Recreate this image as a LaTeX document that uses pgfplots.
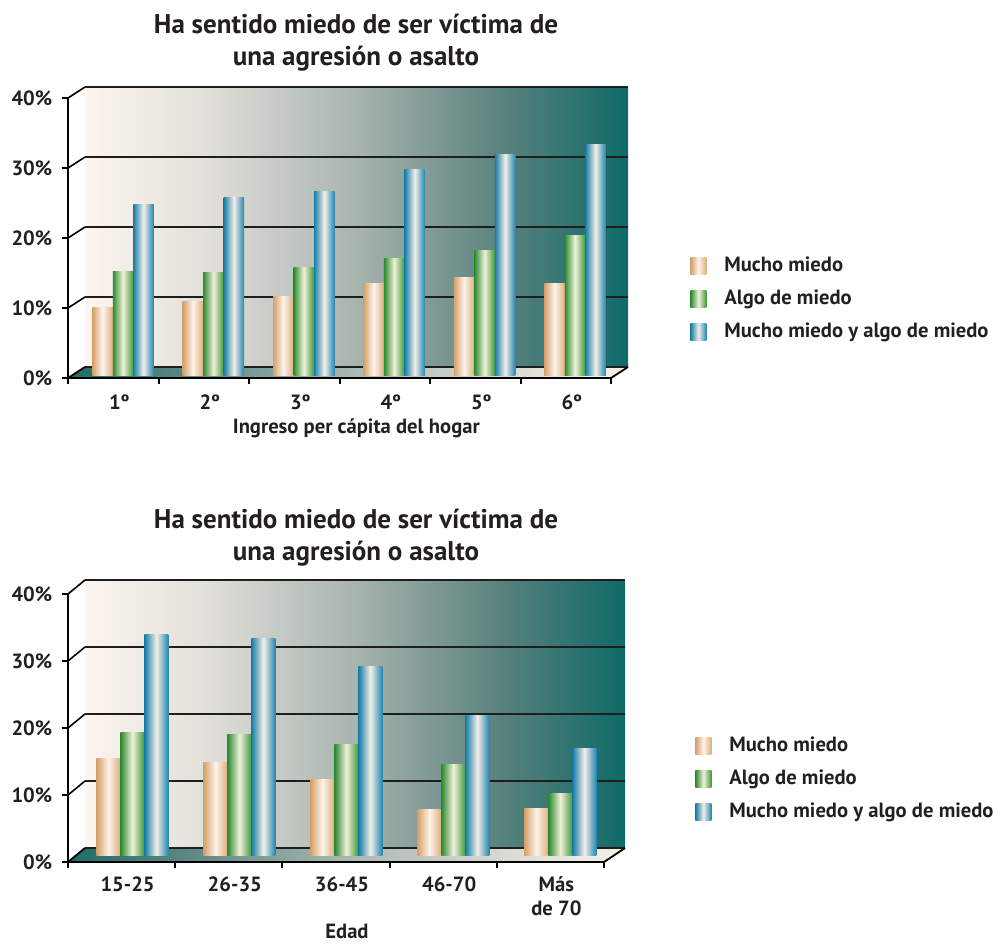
\documentclass[border=0pt]{standalone}
\usepackage{fontspec}
\setmainfont{PT Sans}
\usepackage{pgfplots}
\pgfplotsset{compat=1.18}

\definecolor{txt}{HTML}{231F20}
\definecolor{gridc}{HTML}{1E1E1E}
\definecolor{wallA}{HTML}{FDF5EF}
\definecolor{wallB}{HTML}{E2E0DA}
\definecolor{wallC}{HTML}{A8B4AE}
\definecolor{wallD}{HTML}{56807C}
\definecolor{wallE}{HTML}{0E6A68}
\definecolor{floorA}{HTML}{1F6C69}
\definecolor{floorB}{HTML}{5E8884}
\definecolor{floorC}{HTML}{A9B7B2}
\definecolor{floorD}{HTML}{DAD9D2}
\definecolor{floorE}{HTML}{F7F1E8}
\definecolor{orL}{HTML}{D5A06A}
\definecolor{orM}{HTML}{FDF4EA}
\definecolor{orR}{HTML}{DDAE7E}
\definecolor{grL}{HTML}{2B8A2F}
\definecolor{grM}{HTML}{F3F0DA}
\definecolor{grR}{HTML}{3F9A3A}
\definecolor{blL}{HTML}{167DA6}
\definecolor{blM}{HTML}{F3EFE8}
\definecolor{blR}{HTML}{2386AE}

\pgfdeclarehorizontalshading{wall}{100bp}{color(0bp)=(wallA); color(25bp)=(wallA); color(36bp)=(wallB); color(50bp)=(wallC); color(64bp)=(wallD); color(75bp)=(wallE); color(100bp)=(wallE)}
\pgfdeclarehorizontalshading{floor}{100bp}{color(0bp)=(floorA); color(25bp)=(floorA); color(36bp)=(floorB); color(50bp)=(floorC); color(64bp)=(floorD); color(75bp)=(floorE); color(100bp)=(floorE)}

% series
\pgfplotstableread{
x mucho algo ambos
0 9.7  14.8 24.4
1 10.5 14.7 25.3
2 11.2 15.3 26.2
3 13.1 16.6 29.3
4 14.0 17.8 31.5
5 13.1 20.0 32.9
}\ingreso
\pgfplotstableread{
x mucho algo ambos
0 14.5 18.3 33.0
1 13.9 18.1 32.3
2 11.4 16.6 28.1
3 6.9  13.6 20.8
4 7.1  9.2  16.0
}\edad

\tikzset{lbl/.style={font=\fontsize{10.3}{12}\selectfont\bfseries, text=txt}}

\pgfplotsset{
  front/.style={
    scale only axis, anchor=south west,
    ymin=0, ymax=40, xmin=-0.5,
    axis x line*=bottom, axis y line*=left,
    axis line style={line width=1pt, color=black, -},
    tick align=outside, major tick length=3.2pt,
    tick style={line width=1pt, color=black},
    ytick={0,10,20,30,40},
    yticklabels={0\%,10\%,20\%,30\%,40\%},
    yticklabel style={lbl, inner sep=0pt, xshift=-4.5pt},
    xticklabel style={lbl, inner sep=0pt, align=center},
    xlabel style={lbl},
  },
  bars/.style={
    scale only axis, anchor=south west, hide axis,
    ymin=0, ymax=40, xmin=-0.5,
    legend style={draw=none, fill=none, anchor=west, lbl,
      row sep=3.6pt, inner sep=0pt, column sep=7pt,
      cells={anchor=west}},
    legend image code/.code={\path[##1,draw=none] (0pt,-4.25pt) rectangle (8pt,4.25pt);},
  },
  mucho/.style={draw=none, left color=orL, right color=orR, middle color=orM},
  algo/.style={draw=none, left color=grL, right color=grR, middle color=grM},
  ambos/.style={draw=none, left color=blL, right color=blR, middle color=blM},
}

\begin{document}
\begin{tikzpicture}
\useasboundingbox (0,0) rectangle (503.5pt,-472pt);

% walls, floors and grid (pixel units of the reference)
\begin{scope}[x=0.5pt, y=-0.5pt]
  % chart 1
  \shade[shading=wall] (85,87) rectangle (628,367);
  \shade[shading=floor] (68,378) -- (611,378) -- (628,367) -- (85,367) -- cycle;
  \foreach \yb/\yf in {87/98,157/168,227/238,297/308} {
    \draw[gridc, line width=0.9pt] (85,\yb) -- (628,\yb);
    \draw[black, line width=0.8pt] (68,\yf) -- (85,\yb);
  }
  \draw[gridc, line width=0.9pt] (85,367) -- (628,367);
  \draw[black, line width=0.9pt] (68,378) -- (85,367) (611,378) -- (628,367);
  % chart 2
  \shade[shading=wall] (85,580) rectangle (625,848);
  \shade[shading=floor] (68,862) -- (604,862) -- (625,848) -- (85,848) -- cycle;
  \foreach \yb/\yf in {580/594,647/661,714/728,781/795} {
    \draw[gridc, line width=0.9pt] (85,\yb) -- (625,\yb);
    \draw[black, line width=0.8pt] (68,\yf) -- (85,\yb);
  }
  \draw[gridc, line width=0.9pt] (85,848) -- (625,848);
  \draw[black, line width=0.9pt] (68,862) -- (85,848) (604,862) -- (625,848);
  % titles
  \node[align=center, text=txt, font=\fontsize{13.5}{16}\selectfont\bfseries] at (356,43)
    {Ha sentido miedo de ser víctima de\\una agresión o asalto};
  \node[align=center, text=txt, font=\fontsize{13.5}{16}\selectfont\bfseries] at (356,538)
    {Ha sentido miedo de ser víctima de\\una agresión o asalto};
\end{scope}

% chart 1: front frame with ticks
\begin{axis}[front, at={(34pt,-189pt)}, width=271.5pt, height=140pt, xmax=5.5,
  xtick={-0.5,0.5,...,5.5}, xticklabels={},
  extra x ticks={0,...,5},
  extra x tick labels={1º,2º,3º,4º,5º,6º},
  extra x tick style={major tick length=0pt, xticklabel style={xshift=3pt, yshift=-8pt}},
  xlabel={Ingreso per cápita del hogar},
  xlabel style={at={(axis description cs:0.531,-0.18)}, anchor=center},
]
\end{axis}

% chart 1: bars, one path per bar so that each bar gets its own sheen
\begin{axis}[bars, at={(38.9pt,-187.5pt)}, width=271.2pt, height=140pt, xmax=5.5,
  legend style={at={(1.1287,0.2714)}},
]
\pgfplotsinvokeforeach{0,...,5}{
  \addplot[ybar, bar width=10.25pt, bar shift=-10.25pt, mucho, forget plot,
    restrict x to domain=#1:#1] table[x=x, y=mucho] {\ingreso};
  \addplot[ybar, bar width=10.25pt, bar shift=0pt, algo, forget plot,
    restrict x to domain=#1:#1] table[x=x, y=algo] {\ingreso};
  \addplot[ybar, bar width=10.25pt, bar shift=10.25pt, ambos, forget plot,
    restrict x to domain=#1:#1] table[x=x, y=ambos] {\ingreso};
}
\addlegendimage{mucho}\addlegendentry{Mucho miedo}
\addlegendimage{algo}\addlegendentry{Algo de miedo}
\addlegendimage{ambos}\addlegendentry{Mucho miedo y algo de miedo}
\end{axis}

% chart 2: front frame with ticks
\begin{axis}[front, at={(34pt,-431pt)}, width=268pt, height=134pt, xmax=4.5,
  xtick={-0.5,0.5,...,4.5}, xticklabels={},
  extra x ticks={0,...,4},
  extra x tick labels={15-25,26-35,36-45,46-70,Más\\de 70},
  extra x tick style={major tick length=0pt, xticklabel style={xshift=3pt, yshift=-7pt}},
  xlabel={Edad},
  xlabel style={at={(axis description cs:0.5205,-0.258)}, anchor=center},
]
\end{axis}

% chart 2: bars
\begin{axis}[bars, at={(39.45pt,-427.85pt)}, width=267.5pt, height=134.35pt, xmax=4.5,
  legend style={at={(1.1516,0.2855)}},
]
\pgfplotsinvokeforeach{0,...,4}{
  \addplot[ybar, bar width=12pt, bar shift=-12pt, mucho, forget plot,
    restrict x to domain=#1:#1] table[x=x, y=mucho] {\edad};
  \addplot[ybar, bar width=12pt, bar shift=0pt, algo, forget plot,
    restrict x to domain=#1:#1] table[x=x, y=algo] {\edad};
  \addplot[ybar, bar width=12pt, bar shift=12pt, ambos, forget plot,
    restrict x to domain=#1:#1] table[x=x, y=ambos] {\edad};
}
\addlegendimage{mucho}\addlegendentry{Mucho miedo}
\addlegendimage{algo}\addlegendentry{Algo de miedo}
\addlegendimage{ambos}\addlegendentry{Mucho miedo y algo de miedo}
\end{axis}
\end{tikzpicture}
\end{document}
